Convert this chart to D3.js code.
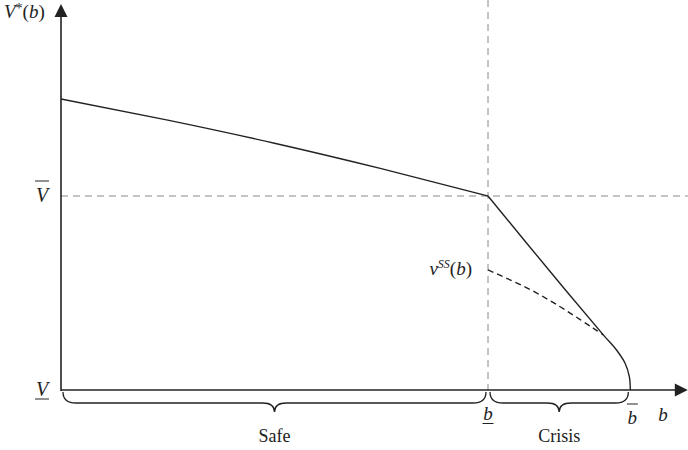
<!DOCTYPE html>
<html>
<head>
<meta charset="utf-8">
<script src="https://cdn.jsdelivr.net/npm/d3@7"></script>
<style>
  body { margin: 0; background: #fff; }
</style>
</head>
<body>
<div class="canvas"></div>
<script>
// V*(b), safe region (b from 0 to b_)
const safeB = [0, 0.25, 0.5, 0.75, 1];
const safeV = [1.5, 1.391, 1.272, 1.141, 1.0];

// V*(b), crisis region (b_ to b bar)
const crisisB = [1, 1.16, 1.27, 1.301, 1.321, 1.331, 1.3333];
const crisisV = [1, 0.572, 0.284, 0.206, 0.138, 0.069, 0];

// v^SS(b), dashed
const ssB = [1, 1.098, 1.169, 1.215, 1.247, 1.27];
const ssV = [0.619, 0.519, 0.429, 0.364, 0.318, 0.284];

// axis marks
const vTicks = [0, 1];          // V_ , V bar
const bTicks = [1, 1.3333];     // b_ , b bar
const regions = ['Safe', 'Crisis'];
const regionB = [[0, 1], [1, 1.3333]];

const bMax = 1.468, vMax = 1.99;

const W = 688, H = 450;
const serif = '"Liberation Serif"';
const svg = d3.select('.canvas').append('svg')
  .attr('width', W).attr('height', H);

const x = d3.scaleLinear().domain([0, 1]).range([61, 488]);
const y = d3.scaleLinear().domain([0, 1]).range([390, 196]);

const ink = '#222';

// text helper, font set on every node
function label(sel) {
  return sel.append('text').attr('font-family', serif).attr('fill', ink);
}

//guide lines
svg.append('line')
  .attr('x1', x(0)).attr('x2', x(bMax))
  .attr('y1', y(vTicks[1])).attr('y2', y(vTicks[1]))
  .attr('stroke', '#888').attr('stroke-width', 1).attr('stroke-dasharray', '7,5');
svg.append('line')
  .attr('x1', x(bTicks[0])).attr('x2', x(bTicks[0]))
  .attr('y1', 0).attr('y2', y(0))
  .attr('stroke', '#888').attr('stroke-width', 1).attr('stroke-dasharray', '7,5');

//axes
svg.append('line')
  .attr('x1', x(0)).attr('x2', x(bMax) - 10)
  .attr('y1', y(0)).attr('y2', y(0))
  .attr('stroke', ink).attr('stroke-width', 1.6);
svg.append('line')
  .attr('x1', x(0)).attr('x2', x(0))
  .attr('y1', y(0) + 1).attr('y2', y(vMax) + 10)
  .attr('stroke', ink).attr('stroke-width', 1.6);

// arrow heads
const xe = x(bMax), ye = y(vMax);
svg.append('path')
  .attr('d', `M${xe},${y(0)} L${xe - 13},${y(0) - 6.5} L${xe - 13},${y(0) + 6.5} Z`)
  .attr('fill', ink);
svg.append('path')
  .attr('d', `M${x(0)},${ye} L${x(0) - 6.5},${ye + 13} L${x(0) + 6.5},${ye + 13} Z`)
  .attr('fill', ink);

//curves
const line = d3.line().x(d => x(d[0])).y(d => y(d[1]));

svg.append('path')
  .datum(safeB.map((b, i) => [b, safeV[i]]))
  .attr('d', line.curve(d3.curveMonotoneX))
  .attr('fill', 'none').attr('stroke', ink).attr('stroke-width', 1.4);

svg.append('path')
  .datum(crisisB.map((b, i) => [b, crisisV[i]]))
  .attr('d', line.curve(d3.curveCatmullRom.alpha(0.5)))
  .attr('fill', 'none').attr('stroke', ink).attr('stroke-width', 1.4);

svg.append('path')
  .datum(ssB.map((b, i) => [b, ssV[i]]))
  .attr('d', line.curve(d3.curveCatmullRom.alpha(0.5)))
  .attr('fill', 'none').attr('stroke', ink).attr('stroke-width', 1.4)
  .attr('stroke-dasharray', '6,4');

//braces
function brace(x0, x1) {
  const yt = y(0) + 2, ym = y(0) + 13, yp = y(0) + 22;
  const xc = (x0 + x1) / 2, r = 13, r2 = 12;
  return `M${x0},${yt} Q${x0},${ym} ${x0 + r},${ym} L${xc - r2},${ym} Q${xc},${ym} ${xc},${yp}`
    + ` Q${xc},${ym} ${xc + r2},${ym} L${x1 - r},${ym} Q${x1},${ym} ${x1},${yt}`;
}
regionB.forEach((r, i) => {
  svg.append('path')
    .attr('d', brace(x(r[0]) + 2, x(r[1]) - 2))
    .attr('fill', 'none').attr('stroke', ink).attr('stroke-width', 1.3);
  label(svg)
    .attr('x', x((r[0] + r[1]) / 2)).attr('y', 442)
    .attr('text-anchor', 'middle')
    .style('font-size', '18px')
    .text(regions[i]);
});

//labels
const yl = label(svg).attr('x', 4).attr('y', 18).style('font-size', '19px');
yl.append('tspan').style('font-style', 'italic').text('V');
yl.append('tspan').attr('dy', -5).style('font-size', '14px').text('*');
yl.append('tspan').attr('dy', 5).text('(');
yl.append('tspan').style('font-style', 'italic').text('b');
yl.append('tspan').text(')');

label(svg)
  .attr('x', 663).attr('y', 421)
  .attr('text-anchor', 'middle')
  .style('font-size', '19px').style('font-style', 'italic')
  .text('b');

// V_ and V bar
vTicks.forEach((v, i) => {
  label(svg)
    .attr('x', 42).attr('y', y(v) + 6)
    .attr('text-anchor', 'middle')
    .style('font-size', '20px').style('font-style', 'italic')
    .text('V');
  const ly = i === 0 ? y(v) + 9 : y(v) - 15;
  svg.append('line')
    .attr('x1', 35).attr('x2', 49).attr('y1', ly).attr('y2', ly)
    .attr('stroke', ink).attr('stroke-width', 1);
});

// b_ and b bar
bTicks.forEach((b, i) => {
  const cx = x(b) + (i === 0 ? 0 : 2);
  const by = i === 0 ? 420 : 424;
  label(svg)
    .attr('x', cx).attr('y', by)
    .attr('text-anchor', 'middle')
    .style('font-size', '19px').style('font-style', 'italic')
    .text('b');
  const ly = i === 0 ? 423.5 : 404;
  svg.append('line')
    .attr('x1', cx - 5.5).attr('x2', cx + 5.5).attr('y1', ly).attr('y2', ly)
    .attr('stroke', ink).attr('stroke-width', 1);
});

// v^SS(b)
const sl = label(svg)
  .attr('x', x(ssB[0]) - 16).attr('y', y(ssV[0]) + 5)
  .attr('text-anchor', 'end')
  .style('font-size', '19px');
sl.append('tspan').style('font-style', 'italic').text('v');
sl.append('tspan').attr('dy', -7).style('font-size', '12px').style('font-style', 'italic').text('SS');
sl.append('tspan').attr('dy', 7).text('(');
sl.append('tspan').style('font-style', 'italic').text('b');
sl.append('tspan').text(')');
</script>
</body>
</html>
